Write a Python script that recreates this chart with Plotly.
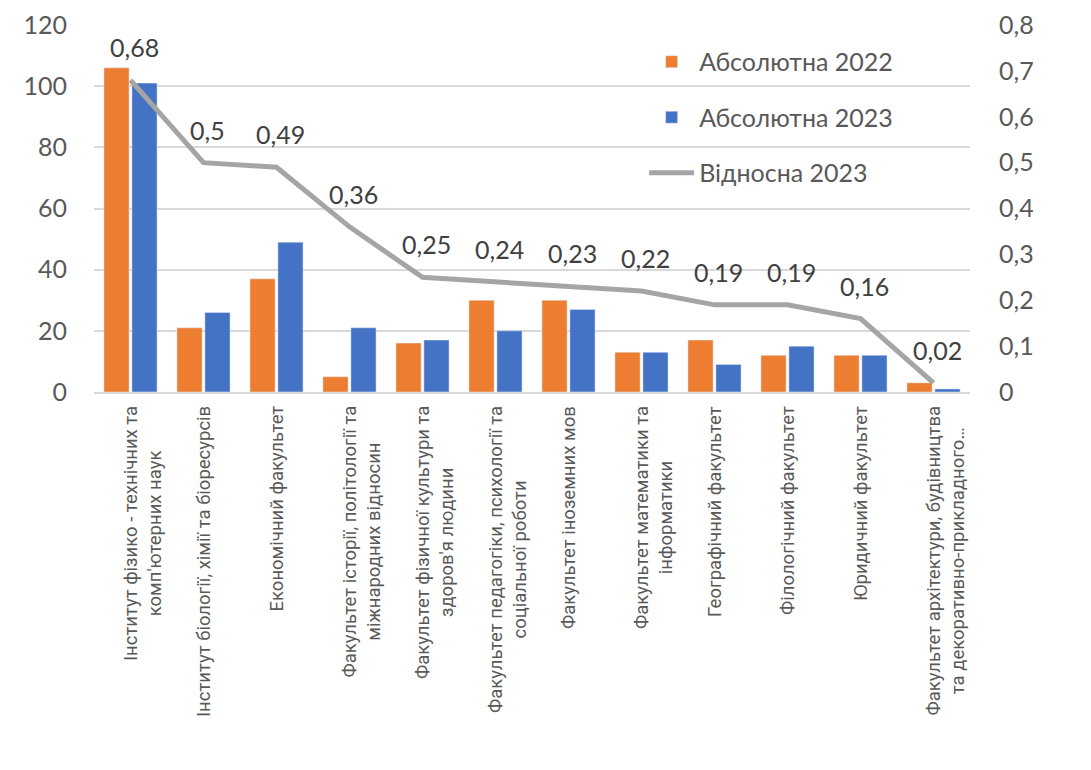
import plotly.graph_objects as go

categories = [
    "Інститут фізико - технічних та<br>комп'ютерних наук",
    "Інститут біології, хімії та біоресурсів",
    "Економічний факультет",
    "Факультет історії, політології та<br>міжнародних відносин",
    "Факультет фізичної культури та<br>здоров'я людини",
    "Факультет педагогіки, психології та<br>соціальної роботи",
    "Факультет іноземних мов",
    "Факультет математики та<br>інформатики",
    "Географічний факультет",
    "Філологічний факультет",
    "Юридичний факультет",
    "Факультет архітектури, будівництва<br>та декоративно-прикладного…",
]
abs_2022 = [106, 21, 37, 5, 16, 30, 30, 13, 17, 12, 12, 3]
abs_2023 = [101, 26, 49, 21, 17, 20, 27, 13, 9, 15, 12, 1]
rel_2023 = [0.68, 0.5, 0.49, 0.36, 0.25, 0.24, 0.23, 0.22, 0.19, 0.19, 0.16, 0.02]
rel_labels = ["0,68", "0,5", "0,49", "0,36", "0,25", "0,24", "0,23", "0,22", "0,19", "0,19", "0,16", "0,02"]

left_ticks = [0, 20, 40, 60, 80, 100, 120]
right_ticks = [0, 0.1, 0.2, 0.3, 0.4, 0.5, 0.6, 0.7, 0.8]
right_ticktext = ["0", "0,1", "0,2", "0,3", "0,4", "0,5", "0,6", "0,7", "0,8"]

ORANGE = "#ED7D31"
BLUE = "#4472C4"
GRAY = "#A5A5A5"
TXT = "#595959"
NUMFONT = "Lato"

x_idx = list(range(len(categories)))

fig = go.Figure()
fig.add_trace(go.Bar(x=x_idx, y=abs_2022, name="Абсолютна 2022", marker_color=ORANGE,
                     legendgroup="a", yaxis="y"))
fig.add_trace(go.Bar(x=x_idx, y=abs_2023, name="Абсолютна 2023", marker_color=BLUE,
                     legendgroup="b", yaxis="y"))
fig.add_trace(go.Scatter(x=x_idx, y=rel_2023, name="Відносна 2023", mode="lines",
                         line=dict(color=GRAY, width=5), legendgroup="c", yaxis="y2"))

annotations = []
for i, (v, t) in enumerate(zip(rel_2023, rel_labels)):
    annotations.append(dict(x=i, y=v, xref="x", yref="y2", text=t, showarrow=False,
                            yshift=33, xshift=4,
                            font=dict(family=NUMFONT, size=25, color="#404040")))
for i, c in enumerate(categories):
    nlines = c.count("<br>") + 1
    annotations.append(dict(x=i, y=0, xref="x", yref="y", text=c, showarrow=False,
                            textangle=-90, yanchor="top", xanchor="center", align="center",
                            yshift=-12, xshift=12 * (nlines - 1),
                            font=dict(family="Roboto", size=18.5, color=TXT)))

fig.update_layout(
    width=1075, height=754,
    margin=dict(l=86, r=113, t=17, b=370),
    plot_bgcolor="white", paper_bgcolor="white",
    barmode="group", bargap=0.234, bargroupgap=0.1,
    showlegend=True,
    legend=dict(x=0.628, y=0.962, xanchor="left", yanchor="top",
                font=dict(family=NUMFONT, size=25, color=TXT),
                tracegroupgap=20, itemwidth=45, bgcolor="rgba(0,0,0,0)"),
    xaxis=dict(tickvals=x_idx, showticklabels=False, range=[-0.5, len(categories) - 0.5],
               showgrid=False, zeroline=False, showline=True, linecolor="#D9D9D9", linewidth=2,
               automargin=False),
    yaxis=dict(range=[0, 120], tickvals=left_ticks, showgrid=True, gridcolor="#D9D9D9",
               gridwidth=2, zeroline=False, ticklabeloverflow="allow", automargin=False,
               tickfont=dict(family=NUMFONT, size=25, color=TXT), ticklabelstandoff=26),
    yaxis2=dict(range=[0, 0.8], tickvals=right_ticks, ticktext=right_ticktext, overlaying="y",
                side="right", showgrid=False, zeroline=False, ticklabeloverflow="allow",
                automargin=False,
                tickfont=dict(family=NUMFONT, size=25, color=TXT), ticklabelstandoff=28),
    annotations=annotations,
)

fig.write_html("out.html")
